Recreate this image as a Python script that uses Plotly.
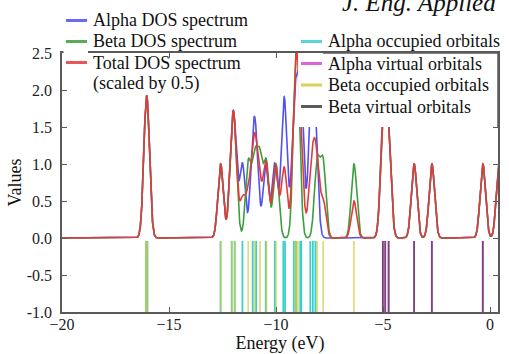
import numpy as np
import plotly.graph_objects as go

# ---- data (orbital energies, eV) ----
alpha_occupied = [-16.08, -16.01, -12.59, -12.07, -11.93, -11.57, -11.09, -10.93,
                  -10.48, -10.06, -9.66, -9.58, -9.17, -9.07, -8.87, -8.82,
                  -8.40, -8.28, -8.16]
beta_occupied = [-16.08, -16.01, -12.59, -12.07, -11.93, -11.30, -11.00, -10.75,
                 -10.45, -10.00, -9.10, -9.04, -8.98, -8.08, -7.80, -6.36]
alpha_virtual = [-5.01, -4.90, -4.74, -3.55, -2.72, -0.34, 0.42]
beta_virtual = [-5.01, -4.90, -4.74, -3.55, -2.72, -0.34, 0.42]
fwhm = 0.3  # eV broadening

x_ticks = [-20, -15, -10, -5, 0]
x_ticktext = ["\u221220", "\u221215", "\u221210", "\u22125", "0"]
y_ticks = [-1.0, -0.5, 0.0, 0.5, 1.0, 1.5, 2.0, 2.5]
y_ticktext = ["-1.0", "-0.5", "0.0", "0.5", "1.0", "1.5", "2.0", "2.5"]

# ---- broadened DOS ----
sigma = fwhm / (2 * np.sqrt(2 * np.log(2)))
energy = np.linspace(-20, 0.6, 4121)


def dos(levels):
    lv = np.asarray(levels)[:, None]
    return np.exp(-((energy[None, :] - lv) ** 2) / (2 * sigma ** 2)).sum(axis=0)


alpha_dos = dos(alpha_occupied + alpha_virtual)
beta_dos = dos(beta_occupied + beta_virtual)
total_half = 0.5 * (alpha_dos + beta_dos)


def sticks(levels, top=-0.04, bottom=-1.0):
    xs, ys = [], []
    for e in levels:
        xs += [e, e, None]
        ys += [top, bottom, None]
    return xs, ys


FONT = "Times New Roman, Liberation Serif, DejaVu Serif, serif"
fig = go.Figure()

BLUE, GREEN, RED = "#5050f5", "#3c9e3c", "#e43a3a"
CYAN, MAGENTA, YELLOW, GRAY = "#3ccfcf", "#d84ad8", "#d2cc3a", "#3f3f3f"

fig.add_trace(go.Scatter(x=energy, y=alpha_dos, mode="lines", name="Alpha DOS spectrum",
                         line=dict(color=BLUE, width=1.6)))
fig.add_trace(go.Scatter(x=energy, y=beta_dos, mode="lines", name="Beta DOS spectrum",
                         line=dict(color=GREEN, width=1.6)))
fig.add_trace(go.Scatter(x=energy, y=total_half, mode="lines",
                         name="Total DOS spectrum (scaled by 0.5)",
                         line=dict(color=RED, width=1.6)))

for levels, color, name, op in [
    (alpha_occupied, CYAN, "Alpha occupied orbitals", 1.0),
    (alpha_virtual, MAGENTA, "Alpha virtual orbitals", 1.0),
    (beta_occupied, YELLOW, "Beta occupied orbitals", 0.65),
    (beta_virtual, GRAY, "Beta virtual orbitals", 0.6),
]:
    sx, sy = sticks(levels)
    fig.add_trace(go.Scatter(x=sx, y=sy, mode="lines", name=name, opacity=op,
                             line=dict(color=color, width=1.8)))

fig.update_traces(showlegend=False, hoverinfo="skip")

L, R, T, B = 62, 11, 53, 42
W, H = 509, 354
PW, PH = W - L - R, H - T - B


def px(xp):
    return (xp - L) / PW


def py(yp):
    return (H - B - yp) / PH


AX = "#5a5a5a"
shapes = [
    # white box hiding the upper right part of the plot (legend area)
    dict(type="rect", xref="x", yref="y", x0=-8.97, x1=0.37, y0=1.5, y1=2.5,
         fillcolor="white", line=dict(width=0), layer="above"),
    dict(type="rect", xref="paper", yref="paper", x0=px(63.5), x1=px(88), y0=py(56), y1=py(50),
         fillcolor="white", line=dict(width=0), layer="above"),
    # frame pieces visible over that box
    dict(type="line", xref="paper", yref="paper", x0=px(323), x1=1, y0=1, y1=1,
         line=dict(color=AX, width=1.5), layer="above"),
    dict(type="line", xref="paper", yref="y", x0=1, x1=1, y0=1.5, y1=2.5,
         line=dict(color=AX, width=1.5), layer="above"),
]
annotations = []

legend_left = [
    (BLUE, "Alpha DOS spectrum", 20.5),
    (GREEN, "Beta DOS spectrum", 41.5),
    (RED, "Total DOS spectrum", 62.5),
]
legend_right = [
    (CYAN, "Alpha occupied orbitals", 41.5),
    (MAGENTA, "Alpha virtual orbitals", 63.5),
    (YELLOW, "Beta occupied orbitals", 85),
    (GRAY, "Beta virtual orbitals", 106.5),
]


def legend_row(color, text, yc, hx0, hx1, tx):
    shapes.append(dict(type="line", xref="paper", yref="paper", x0=px(hx0), x1=px(hx1),
                       y0=py(yc), y1=py(yc), line=dict(color=color, width=3), layer="above",
                       opacity=0.85))
    annotations.append(dict(text=text, xref="paper", yref="paper", x=px(tx), y=py(yc),
                            xanchor="left", yanchor="middle", showarrow=False,
                            font=dict(family=FONT, size=18, color="#111111")))


for c, t, yc in legend_left:
    legend_row(c, t, yc, 66, 87, 91)
annotations.append(dict(text="(scaled by 0.5)", xref="paper", yref="paper", x=px(91), y=py(83.5),
                        xanchor="left", yanchor="middle", showarrow=False,
                        font=dict(family=FONT, size=18, color="#111111")))
for c, t, yc in legend_right:
    legend_row(c, t, yc, 301, 322, 326)

# cropped journal header at the top edge
annotations.append(dict(text="<i>J. Eng. Applied</i>", xref="paper", yref="paper",
                        x=px(340), y=py(3), xanchor="left", yanchor="middle", showarrow=False,
                        font=dict(family=FONT, size=25, color="#111111")))

fig.update_layout(
    width=W, height=H, autosize=False,
    margin=dict(l=L, r=R, t=T, b=B, autoexpand=False),
    paper_bgcolor="white", plot_bgcolor="white",
    showlegend=False,
    shapes=shapes, annotations=annotations,
    font=dict(family=FONT, size=16, color="#222222"),
)
fig.update_xaxes(range=[-20, 0.37], tickvals=x_ticks, ticktext=x_ticktext, automargin=False,
                 showgrid=False, zeroline=False, showline=True, linecolor=AX, linewidth=1.5,
                 mirror="ticks", ticks="inside", ticklen=5, tickcolor=AX, tickwidth=1,
                 ticklabelstandoff=-3,
                 tickfont=dict(family=FONT, size=16, color="#222222"),
                 title=dict(text="Energy (eV)", font=dict(family=FONT, size=18, color="#111111"),
                            standoff=2))
fig.update_yaxes(range=[-1, 2.5], tickvals=y_ticks, ticktext=y_ticktext, automargin=False,
                 showgrid=False, zeroline=False, showline=True, linecolor=AX, linewidth=1.5,
                 mirror="ticks", ticks="inside", ticklen=5, tickcolor=AX, tickwidth=1,
                 ticklabelstandoff=5,
                 tickfont=dict(family=FONT, size=16, color="#222222"),
                 title=dict(text="Values", font=dict(family=FONT, size=18, color="#111111"),
                            standoff=0))

fig.write_html("out.html", config={"displayModeBar": False},
               post_script="document.body.style.margin='0px';")
